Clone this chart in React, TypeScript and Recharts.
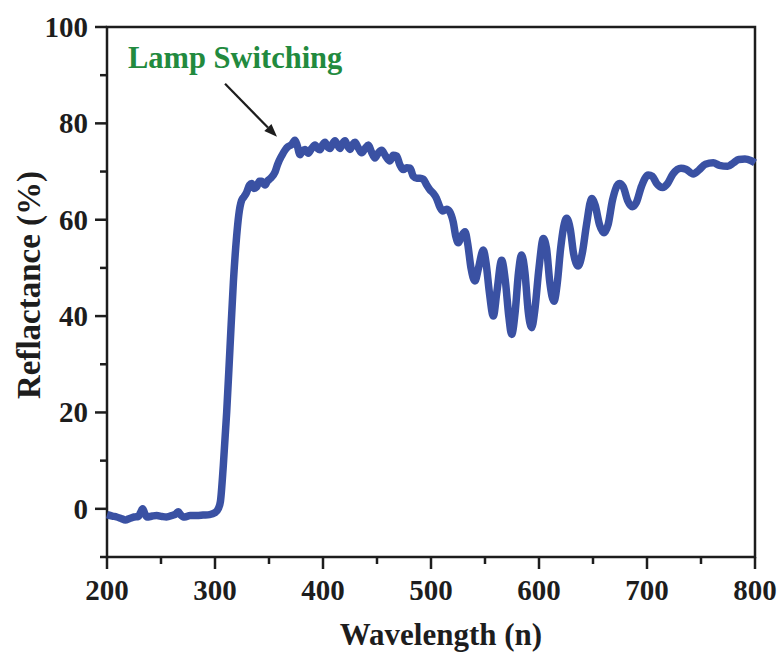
import React from "react";
import {
  LineChart,
  Line,
  XAxis,
  YAxis,
  ReferenceArea,
  ReferenceDot,
  ReferenceLine,
  Label,
} from "recharts";

// wavelength (nm) and reflectance (%)
const wavelength = [
  200, 205, 209, 213, 217, 221, 225, 229, 231, 233, 235, 237, 242, 246, 251, 255, 260, 264, 266, 268,
  272, 277, 283, 289, 295, 300, 303, 305, 307.7, 310.8, 313.9, 317, 320, 322, 324.6, 327, 329.3, 332,
  334, 336, 338.6, 341, 343.2, 346.3, 348.5, 350.9, 355.6, 358, 361.8, 365, 367.9, 371, 374, 376, 378.7,
  381, 383.3, 386.4, 389.5, 392.6, 395, 397.2, 399.5, 401.9, 404, 406.5, 409, 411.1, 413.5, 415.7, 418,
  420.4, 422.5, 425, 427.5, 429.6, 432.5, 435.8, 439, 442, 445, 448.1, 451, 454.3, 458, 462, 465, 468.2,
  471, 474.3, 477.5, 480.6, 483.6, 486.8, 490, 492.9, 496, 499, 502.1, 505, 508.3, 511, 514.5, 517,
  520.6, 523, 525.3, 528, 531.5, 534, 537, 540.7, 544, 548.4, 551, 554, 557.7, 561, 565.4, 569, 572,
  574.7, 578, 581, 583.9, 587, 590, 593.2, 596, 600, 604, 607, 610, 613.9, 617, 620, 625.6, 629, 632,
  636.4, 640, 644, 648.8, 652, 656, 660.2, 664, 668, 674.4, 678, 682, 686.4, 690, 695, 701.2, 705, 709,
  714.5, 719, 724, 731.5, 736, 742.9, 748, 754, 761.4, 767, 774.7, 780, 785, 790.7, 796, 800,
];
const reflectance = [
  -1.2, -1.5, -1.7, -2.0, -2.3, -2.0, -1.7, -1.6, -0.8, 0.0, -1.0, -1.7, -1.5, -1.4, -1.6, -1.7, -1.4, -1.0, -0.6, -1.2,
  -1.7, -1.4, -1.4, -1.3, -1.2, -0.8, 0.0, 1.5, 9, 20, 33.5, 47, 56.5, 61, 64, 64.8, 65.7, 67.2,
  67.5, 66.5, 66.8, 68, 68, 67.2, 68, 68.5, 69.9, 71.5, 73.3, 74.5, 75.2, 75.6, 76.5, 75.5, 73.5,
  74.3, 74.6, 73.8, 74.8, 75.5, 74.8, 74.5, 75.5, 76.1, 75.2, 74.8, 75.8, 76.4, 75.5, 74.8, 75.8,
  76.4, 75.4, 74.6, 75.6, 76.1, 75, 73.9, 74.8, 75.5, 74, 72.8, 73.8, 74.4, 73.2, 72.2, 73.4, 73.2,
  71.5, 70.4, 70.8, 70.7, 69, 68.6, 68.6, 68.4, 67.2, 66.2, 65.5, 64.5, 62.6, 61.8, 62.2, 61.8,
  59.5, 56.5, 55.2, 56.5, 57.5, 55, 50, 47.3, 50, 53.7, 51, 45, 40, 45, 51.6, 47, 40,
  36.2, 41, 49, 52.7, 49, 41, 37.6, 41, 50, 56.1, 54, 47, 43.1, 47, 54, 60.3, 58, 53,
  50.4, 53, 59, 64.4, 63, 59, 57.3, 59, 64, 67.5, 66.8, 64, 62.7, 63.5, 67, 69.3, 69, 67.5,
  66.7, 67.5, 69.5, 70.7, 70.5, 69.5, 70.3, 71.5, 71.8, 71.3, 71.1, 71.8, 72.5, 72.6, 72.3, 71.8,
];

const xTicks = [200, 250, 300, 350, 400, 450, 500, 550, 600, 650, 700, 750, 800];
const yTicks = [-10, 0, 10, 20, 30, 40, 50, 60, 70, 80, 90, 100];

const data = wavelength.map((wl, i) => ({ wl, r: reflectance[i] }));

const FONT = "Liberation Serif";
const INK = "#1d1d1d";
const txt = { fontFamily: FONT, fontWeight: 700 } as React.CSSProperties;

const XTick = (props: any) => {
  const { x, y, payload } = props;
  const major = payload.value % 100 === 0;
  return (
    <g>
      <line x1={x} x2={x} y1={y} y2={y + (major ? 12 : 7)} stroke={INK} strokeWidth={2.5} />
      {major && (
        <text x={x} y={y + 43} textAnchor="middle" style={{ ...txt, fontSize: 29 }} fill={INK}>
          {payload.value}
        </text>
      )}
    </g>
  );
};

const YTick = (props: any) => {
  const { x, y, payload } = props;
  const major = payload.value % 20 === 0;
  return (
    <g>
      <line x1={x - (major ? 12 : 7)} x2={x} y1={y} y2={y} stroke={INK} strokeWidth={2.5} />
      {major && (
        <text x={x - 19} y={y + 10} textAnchor="end" style={{ ...txt, fontSize: 29 }} fill={INK}>
          {payload.value}
        </text>
      )}
    </g>
  );
};

const Arrow = (props: any) => {
  const { x1, y1, x2, y2 } = props;
  const ang = Math.atan2(y2 - y1, x2 - x1);
  const len = 13;
  const w = 5;
  const bx = x2 - len * Math.cos(ang);
  const by = y2 - len * Math.sin(ang);
  const px = -Math.sin(ang) * w;
  const py = Math.cos(ang) * w;
  return (
    <g>
      <line x1={x1} y1={y1} x2={bx} y2={by} stroke={INK} strokeWidth={2.2} />
      <polygon points={`${x2},${y2} ${bx + px},${by + py} ${bx - px},${by - py}`} fill={INK} />
    </g>
  );
};

const Note = (props: any) => (
  <text x={props.cx} y={props.cy} style={{ ...txt, fontSize: 30.5 }} fill="#228a3e">
    Lamp Switching
  </text>
);

export default function App() {
  return (
    <div style={{ position: "absolute", left: 0, top: 0, background: "#fff" }}>
      <LineChart width={783} height={653} data={data} margin={{ top: 27, right: 28, left: 0, bottom: 0 }}>
        <XAxis
          dataKey="wl"
          type="number"
          domain={[200, 800]}
          ticks={xTicks}
          tick={XTick}
          tickLine={false}
          tickSize={0}
          tickMargin={0}
          axisLine={false}
          height={96}
          interval={0}
        >
          <Label
            content={(p: any) => {
              const vb = p.viewBox || { x: 107, y: 557, width: 648 };
              return (
                <text
                  x={vb.x + vb.width / 2 + 10}
                  y={vb.y + 88}
                  textAnchor="middle"
                  style={{ ...txt, fontSize: 31 }}
                  fill={INK}
                >
                  Wavelength (n)
                </text>
              );
            }}
          />
        </XAxis>
        <YAxis
          type="number"
          domain={[-10, 100]}
          ticks={yTicks}
          tick={YTick}
          tickLine={false}
          tickSize={0}
          tickMargin={0}
          axisLine={false}
          width={107}
          interval={0}
        >
          <Label
            content={(p: any) => {
              const vb = p.viewBox || { x: 0, y: 27, width: 107, height: 530 };
              const cy = vb.y + vb.height / 2 - 7;
              return (
                <text
                  x={40}
                  y={cy}
                  transform={`rotate(-90 40 ${cy})`}
                  textAnchor="middle"
                  style={{ ...txt, fontSize: 33 }}
                  fill={INK}
                >
                  Reflactance (%)
                </text>
              );
            }}
          />
        </YAxis>
        <ReferenceArea x1={200} x2={800} y1={-10} y2={100} fill="none" stroke={INK} strokeWidth={2.5} />
        <Line
          dataKey="r"
          type="monotone"
          stroke="#3a51a3"
          strokeWidth={7.5}
          dot={false}
          isAnimationActive={false}
        />
        <ReferenceLine
          segment={[
            { x: 309.3, y: 88.2 },
            { x: 357.4, y: 77.2 },
          ]}
          shape={Arrow}
        />
        <ReferenceDot x={219.4} y={91.4} r={0} shape={Note} />
      </LineChart>
    </div>
  );
}
